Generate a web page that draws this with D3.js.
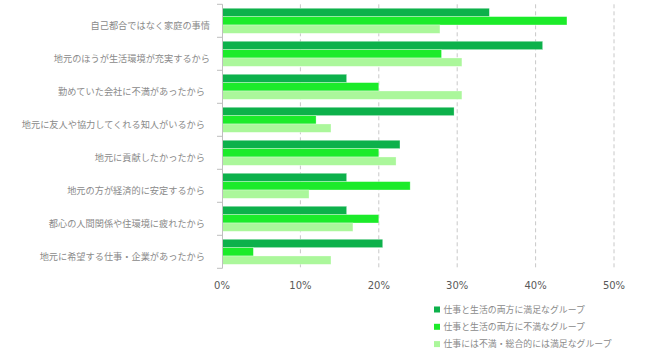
<!DOCTYPE html>
<html><head><meta charset="utf-8">
<script src="https://cdn.jsdelivr.net/npm/d3@7"></script>
<style>body{margin:0;background:#fff}svg{display:block}</style>
</head><body>
<svg id="c" width="650" height="360"></svg>
<script>
const categories = [
  "自己都合ではなく家庭の事情",
  "地元のほうが生活環境が充実するから",
  "勤めていた会社に不満があったから",
  "地元に友人や協力してくれる知人がいるから",
  "地元に貢献したかったから",
  "地元の方が経済的に安定するから",
  "都心の人間関係や住環境に疲れたから",
  "地元に希望する仕事・企業があったから"
];
const seriesNames = [
  "仕事と生活の両方に満足なグループ",
  "仕事と生活の両方に不満なグループ",
  "仕事には不満・総合的には満足なグループ"
];
const satisfiedBoth = [34.1, 40.9, 15.9, 29.6, 22.7, 15.9, 15.9, 20.5];
const dissatisfiedBoth = [44.0, 28.0, 20.0, 12.0, 20.0, 24.0, 20.0, 4.0];
const workDissatisfied = [27.8, 30.6, 30.6, 13.9, 22.2, 11.1, 16.7, 13.9];
const xTicks = [0, 10, 20, 30, 40, 50];
const colors = ["#0db14b", "#1ceb2a", "#abf79b"];

const series = [satisfiedBoth, dissatisfiedBoth, workDissatisfied];
const svg = d3.select("#c");
const x = d3.scaleLinear().domain([0, 50]).range([222, 614]);
const y = d3.scaleBand().domain(categories).range([4.3, 268.3]).paddingInner(0.24).paddingOuter(0.12);
const ySub = d3.scaleBand().domain(d3.range(series.length)).range([0, y.bandwidth()]);

// gridlines
svg.append("g").selectAll("line").data(xTicks.filter(d => d > 0)).join("line")
  .attr("x1", d => x(d)).attr("x2", d => x(d))
  .attr("y1", 4.3).attr("y2", 268.3)
  .attr("stroke", "#c8c8c8").attr("stroke-width", 1).attr("stroke-dasharray", "4,3");

// bars
categories.forEach((c, i) => {
  const g = svg.append("g").attr("transform", `translate(0,${y(c)})`);
  g.selectAll("rect").data(series.map((s, k) => ({k, v: s[i]}))).join("rect")
    .attr("x", x(0)).attr("y", d => ySub(d.k))
    .attr("width", d => x(d.v) - x(0)).attr("height", ySub.bandwidth())
    .attr("fill", d => colors[d.k])
    .attr("stroke", "#ffffff").attr("stroke-opacity", 0.5).attr("stroke-width", 0.6);
});

// left axis line with ticks at band boundaries
const step = y.step();
const edges = d3.range(categories.length + 1).map(i => 4.3 + i * step);
svg.append("line").attr("x1", x(0) + 0.5).attr("x2", x(0) + 0.5).attr("y1", 4.3).attr("y2", 268.3)
  .attr("stroke", "#bfbfbf");
svg.append("g").selectAll("line").data(edges).join("line")
  .attr("x1", x(0) - 5).attr("x2", x(0) + 0.5).attr("y1", d => d).attr("y2", d => d)
  .attr("stroke", "#bfbfbf");

// category labels
svg.append("g").selectAll("text").data(categories).join("text")
  .attr("x", (d, i) => i < 2 ? 210 : 205)
  .attr("y", d => y(d) + y.bandwidth() / 2 + 5)
  .attr("dy", "0.35em")
  .attr("text-anchor", "end")
  .attr("font-family", "'Noto Sans CJK JP', sans-serif")
  .attr("font-size", 9.2)
  .attr("fill", "#8a8a8a")
  .text(d => d);

// x axis labels
svg.append("g").selectAll("text").data(xTicks).join("text")
  .attr("x", d => x(d)).attr("y", 285).attr("dy", "0.35em")
  .attr("text-anchor", "middle")
  .attr("font-family", "'DejaVu Sans', sans-serif")
  .attr("font-size", 10)
  .attr("fill", "#595959")
  .text(d => d + "%");

// legend
const lg = svg.append("g").selectAll("g").data(seriesNames).join("g")
  .attr("transform", (d, i) => `translate(434,${309.5 + i * 17.3})`);
lg.append("rect").attr("x", 0).attr("y", -3).attr("width", 6).attr("height", 6)
  .attr("fill", (d, i) => colors[i]);
lg.append("text").attr("x", 9.5).attr("y", 0).attr("dy", "0.35em")
  .attr("font-family", "'Noto Sans CJK JP', sans-serif")
  .attr("font-size", 8.9).attr("fill", "#8a8a8a")
  .text(d => d);
</script>
</body></html>
